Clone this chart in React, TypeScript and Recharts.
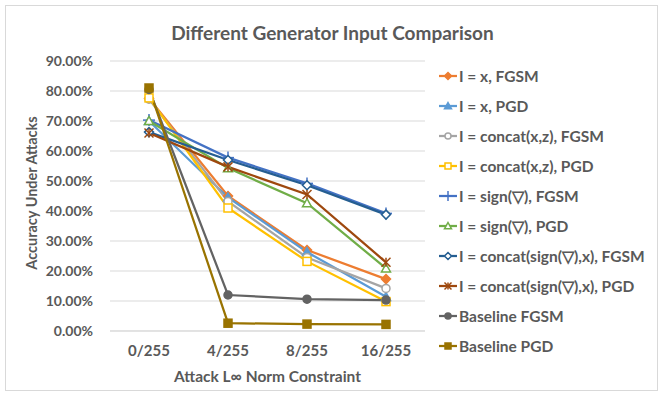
import React from 'react'
import { LineChart, Line, XAxis, YAxis, CartesianGrid } from 'recharts'

const categories = ['0/255', '4/255', '8/255', '16/255']

const xFgsm = [77.5, 45.0, 27.0, 17.3]
const xPgd = [70.0, 44.5, 26.3, 11.4]
const concatXzFgsm = [77.3, 43.2, 24.5, 14.2]
const concatXzPgd = [77.7, 41.0, 23.2, 9.8]
const signFgsm = [70.3, 57.8, 49.2, 39.2]
const signPgd = [70.0, 54.3, 42.6, 20.9]
const concatSignFgsm = [66.3, 57.0, 48.6, 38.8]
const concatSignPgd = [66.0, 54.7, 45.5, 22.9]
const baselineFgsm = [80.5, 12.0, 10.6, 10.3]
const baselinePgd = [81.0, 2.6, 2.3, 2.2]

const yTicks = [0, 10, 20, 30, 40, 50, 60, 70, 80, 90]

type Shape = 'diamond' | 'triangle' | 'circle' | 'square' | 'plus' | 'star'

const series: { key: string; name: string; color: string; shape: Shape; open: boolean; values: number[] }[] = [
  { key: 'xFgsm', name: 'I = x, FGSM', color: '#ED7D31', shape: 'diamond', open: false, values: xFgsm },
  { key: 'xPgd', name: 'I = x, PGD', color: '#5B9BD5', shape: 'triangle', open: false, values: xPgd },
  { key: 'czF', name: 'I = concat(x,z), FGSM', color: '#A5A5A5', shape: 'circle', open: true, values: concatXzFgsm },
  { key: 'czP', name: 'I = concat(x,z), PGD', color: '#FFC000', shape: 'square', open: true, values: concatXzPgd },
  { key: 'sF', name: 'I = sign(\u25BD), FGSM', color: '#4472C4', shape: 'plus', open: false, values: signFgsm },
  { key: 'sP', name: 'I = sign(\u25BD), PGD', color: '#70AD47', shape: 'triangle', open: true, values: signPgd },
  { key: 'csF', name: 'I = concat(sign(\u25BD),x), FGSM', color: '#255E91', shape: 'diamond', open: true, values: concatSignFgsm },
  { key: 'csP', name: 'I = concat(sign(\u25BD),x), PGD', color: '#9E480E', shape: 'star', open: false, values: concatSignPgd },
  { key: 'bF', name: 'Baseline FGSM', color: '#636363', shape: 'circle', open: false, values: baselineFgsm },
  { key: 'bP', name: 'Baseline PGD', color: '#997300', shape: 'square', open: false, values: baselinePgd },
]

const data = categories.map((c, i) => {
  const row: Record<string, string | number> = { cat: c }
  series.forEach(s => { row[s.key] = s.values[i] })
  return row
})

const FONT = 'Lato, "Open Sans", sans-serif'
const TEXT = '#595959'

function Marker({ cx, cy, color, shape, open, r = 4.5 }: { cx: number; cy: number; color: string; shape: Shape; open: boolean; r?: number }) {
  const fill = open ? '#fff' : color
  const sw = 1.5
  if (shape === 'diamond') {
    return <polygon points={`${cx},${cy - r} ${cx + r},${cy} ${cx},${cy + r} ${cx - r},${cy}`} fill={fill} stroke={color} strokeWidth={sw} />
  }
  if (shape === 'triangle') {
    return <polygon points={`${cx},${cy - r} ${cx + r},${cy + r * 0.8} ${cx - r},${cy + r * 0.8}`} fill={fill} stroke={color} strokeWidth={sw} />
  }
  if (shape === 'circle') {
    return <circle cx={cx} cy={cy} r={r - 0.5} fill={fill} stroke={color} strokeWidth={sw} />
  }
  if (shape === 'square') {
    return <rect x={cx - r + 0.5} y={cy - r + 0.5} width={2 * r - 1} height={2 * r - 1} fill={fill} stroke={color} strokeWidth={sw} />
  }
  if (shape === 'plus') {
    return (
      <g stroke={color} strokeWidth={sw}>
        <line x1={cx - r - 1.5} y1={cy} x2={cx + r + 1.5} y2={cy} />
        <line x1={cx} y1={cy - r - 1.5} x2={cx} y2={cy + r + 1.5} />
      </g>
    )
  }
  return (
    <g stroke={color} strokeWidth={sw}>
      <line x1={cx - r} y1={cy - r} x2={cx + r} y2={cy + r} />
      <line x1={cx - r} y1={cy + r} x2={cx + r} y2={cy - r} />
      <line x1={cx} y1={cy - r} x2={cx} y2={cy + r} />
    </g>
  )
}

function LegendBox() {
  return (
    <div style={{ position: 'absolute', left: 438, top: 61, fontFamily: FONT, fontWeight: 700, fontSize: 15.5, color: TEXT }}>
      {series.map(s => (
        <div key={s.key} style={{ display: 'flex', alignItems: 'center', height: 30 }}>
          <svg width={20} height={12} style={{ marginRight: 1 }}>
            <line x1={1} y1={6} x2={19} y2={6} stroke={s.color} strokeWidth={2.25} />
            <Marker cx={10} cy={6} color={s.color} shape={s.shape} open={s.open} r={3.5} />
          </svg>
          <span style={{ whiteSpace: 'nowrap' }}>{s.name}</span>
        </div>
      ))}
    </div>
  )
}

export default function App() {
  return (
    <div style={{ position: 'absolute', left: 0, top: 0, width: 663, height: 396, background: '#fff' }}>
      <div style={{ position: 'absolute', left: 5, top: 5, width: 651, height: 384, border: '1px solid #d9d9d9' }} />
      <LineChart width={663} height={396} data={data} margin={{ top: 61, right: 238, bottom: 35, left: 0 }} style={{ position: 'absolute', left: 0, top: 0 }}>
        <CartesianGrid vertical={false} stroke="#d9d9d9" />
        <XAxis dataKey="cat" height={30} interval={0} padding={{ left: 39, right: 39 }} axisLine={{ stroke: '#d9d9d9' }} tickLine={false} tick={{ fill: TEXT, fontFamily: FONT, fontWeight: 700, fontSize: 15 }} dy={6} />
        <YAxis width={110} domain={[0, 90]} ticks={yTicks} interval={0} axisLine={false} tickLine={false} tickFormatter={(v: number) => `${v.toFixed(2)}%`} tick={{ fill: TEXT, fontFamily: FONT, fontWeight: 700, fontSize: 14 }} dx={-9} />
        {series.map(s => (
          <Line
            key={s.key}
            dataKey={s.key}
            name={s.name}
            stroke={s.color}
            strokeWidth={2.25}
            isAnimationActive={false}
            activeDot={false}
            dot={(p: any) => <Marker key={`${s.key}-${p.index}`} cx={p.cx} cy={p.cy} color={s.color} shape={s.shape} open={s.open} />}
          />
        ))}
      </LineChart>
      <div style={{ position: 'absolute', left: 0, top: 21, width: 665, textAlign: 'center', fontFamily: FONT, fontWeight: 700, fontSize: 19, color: TEXT }}>
        Different Generator Input Comparison
      </div>
      <div style={{ position: 'absolute', left: 110, top: 367, width: 315, textAlign: 'center', fontFamily: FONT, fontWeight: 700, fontSize: 15.5, color: TEXT }}>
        Attack L∞ Norm Constraint
      </div>
      <div style={{ position: 'absolute', left: 31, top: 193, width: 0, height: 0 }}>
        <div style={{ position: 'absolute', transform: 'translate(-50%, -50%) rotate(-90deg)', whiteSpace: 'nowrap', fontFamily: FONT, fontWeight: 700, fontSize: 14.5, color: TEXT }}>
          Accuracy Under Attacks
        </div>
      </div>
      <LegendBox />
    </div>
  )
}
